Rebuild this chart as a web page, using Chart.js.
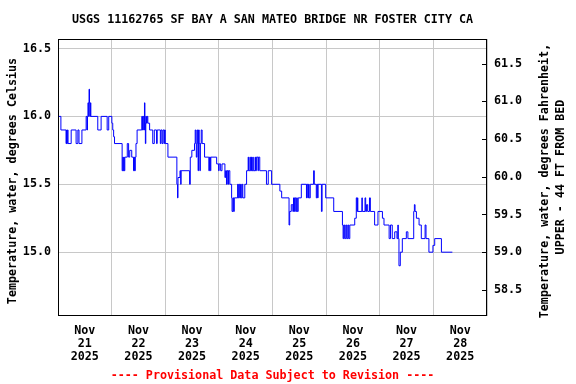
<!DOCTYPE html>
<html>
<head>
<meta charset="utf-8">
<title>USGS 11162765</title>
<script src="https://cdn.jsdelivr.net/npm/chart.js@4.4.1/dist/chart.umd.min.js"></script>
<style>
    body { margin: 0; background: #ffffff; }
    canvas { display: block; }
</style>
</head>
<body>
<canvas id="TempChart" width="576" height="384"></canvas>
<script>
const chartTitle = "USGS 11162765 SF BAY A SAN MATEO BRIDGE NR FOSTER CITY CA";
const leftAxisTitle = "Temperature, water, degrees Celsius";
const rightAxisTitle = ["Temperature, water, degrees Fahrenheit,", "UPPER - 44 FT FROM BED"];
const footerText = "---- Provisional Data Subject to Revision ----";

const monthLabel = "Nov";
const yearLabel = "2025";
const dayLabels = ["21", "22", "23", "24", "25", "26", "27", "28"];

// hours since Nov 21 00:00, value holds until the next change
const hours = [
    0, 1.3, 3.6, 3.8, 3.9, 4.2, 4.5, 5.9, 8.1, 8.9, 9.4, 10.7,
    12.6, 13.0, 13.2, 13.4, 13.7, 13.9, 14.1, 14.3, 14.5, 14.7, 17.8, 19.3,
    22.0, 22.7, 24.1, 24.5, 24.9, 25.3, 28.7, 29.0, 29.2, 29.5, 29.6, 29.9,
    31.0, 31.6, 32.1, 33.0, 33.8, 34.1, 34.3, 34.6, 34.9, 35.4, 37.5, 37.8,
    38.1, 38.4, 38.7, 38.9, 39.1, 39.3, 39.6, 39.9, 40.2, 41.0, 42.4, 43.1,
    44.1, 44.4, 45.8, 46.1, 46.6, 47.0, 47.5, 47.7, 48.0, 49.2, 53.2, 53.5,
    53.7, 54.6, 54.9, 55.1, 58.9, 59.2, 59.9, 61.1, 61.4, 61.7, 61.9, 62.2,
    62.5, 62.7, 62.9, 63.2, 63.5, 63.7, 64.1, 64.5, 65.6, 67.5, 67.8, 68.2,
    68.4, 71.0, 71.9, 72.1, 72.8, 73.4, 74.7, 75.0, 75.4, 75.7, 76.1, 76.3,
    76.9, 77.7, 77.9, 78.3, 78.6, 78.9, 80.4, 80.6, 80.9, 81.3, 81.7, 82.0,
    82.4, 82.7, 83.6, 84.4, 85.1, 85.3, 85.9, 86.1, 86.6, 86.8, 87.2, 87.4,
    88.2, 88.4, 88.8, 89.5, 89.7, 90.3, 93.3, 94.1, 95.6, 99.3, 100.1, 103.4,
    103.7, 104.4, 105.1, 105.4, 105.8, 106.0, 106.4, 106.8, 107.1, 107.5, 108.9, 111.2,
    111.4, 111.8, 112.1, 112.4, 112.9, 114.4, 114.7, 115.6, 115.9, 116.2, 116.4, 117.9,
    118.2, 119.8, 123.4, 127.3, 127.6, 127.9, 128.3, 128.8, 129.2, 129.7, 130.1, 130.6,
    132.8, 133.5, 133.8, 134.0, 134.2, 136.0, 136.2, 137.4, 137.7, 138.1, 138.6, 139.4,
    139.8, 141.7, 143.2, 145.2, 145.9, 148.2, 148.8, 149.6, 150.7, 151.7, 152.1, 152.3,
    152.6, 153.2, 154.1, 155.9, 156.6, 159.2, 159.5, 159.8, 160.4, 161.6, 162.6, 164.3,
    164.7, 166.0, 167.8, 168.6, 171.6, 176.5
];
const tempC = [
    16.0, 15.9, 15.8, 15.9, 15.8, 15.9, 15.8, 15.9, 15.8, 15.9, 15.8, 15.9,
    16.0, 15.9, 16.0, 16.1, 16.0, 16.2, 16.1, 16.0, 16.1, 16.0, 15.9, 16.0,
    15.9, 16.0, 15.95, 15.9, 15.85, 15.8, 15.6, 15.7, 15.6, 15.7, 15.6, 15.7,
    15.8, 15.7, 15.75, 15.7, 15.6, 15.7, 15.6, 15.7, 15.8, 15.9, 16.0, 15.9,
    16.0, 15.9, 16.1, 15.95, 15.8, 16.0, 15.95, 16.0, 15.95, 15.9, 15.8, 15.9,
    15.8, 15.9, 15.8, 15.9, 15.8, 15.9, 15.8, 15.9, 15.8, 15.7, 15.5, 15.4,
    15.55, 15.6, 15.5, 15.6, 15.5, 15.7, 15.75, 15.8, 15.9, 15.8, 15.7, 15.9,
    15.8, 15.6, 15.9, 15.8, 15.6, 15.8, 15.9, 15.8, 15.7, 15.6, 15.7, 15.6,
    15.7, 15.65, 15.6, 15.65, 15.6, 15.65, 15.55, 15.6, 15.5, 15.6, 15.5, 15.6,
    15.5, 15.4, 15.3, 15.4, 15.3, 15.4, 15.5, 15.4, 15.5, 15.4, 15.5, 15.4,
    15.5, 15.4, 15.5, 15.6, 15.7, 15.6, 15.7, 15.6, 15.7, 15.6, 15.7, 15.6,
    15.7, 15.6, 15.7, 15.6, 15.7, 15.6, 15.5, 15.6, 15.5, 15.45, 15.4, 15.2,
    15.3, 15.35, 15.3, 15.4, 15.3, 15.4, 15.3, 15.4, 15.3, 15.4, 15.5, 15.4,
    15.5, 15.4, 15.5, 15.4, 15.5, 15.6, 15.5, 15.4, 15.5, 15.4, 15.5, 15.3,
    15.5, 15.4, 15.3, 15.2, 15.1, 15.2, 15.1, 15.2, 15.1, 15.2, 15.1, 15.2,
    15.25, 15.4, 15.3, 15.4, 15.3, 15.4, 15.3, 15.4, 15.3, 15.35, 15.3, 15.4,
    15.3, 15.2, 15.3, 15.25, 15.2, 15.1, 15.2, 15.1, 15.15, 15.1, 15.2, 15.1,
    14.9, 15.0, 15.1, 15.15, 15.1, 15.3, 15.35, 15.3, 15.25, 15.2, 15.1, 15.2,
    15.1, 15.0, 15.05, 15.1, 15.0, 15.0
];

const celsiusTicks = [15.0, 15.5, 16.0, 16.5];
const yMinC = 14.53;
const yMaxC = 16.57;

const fontFamily = "'DejaVu Sans Mono', monospace";
const gridColor = "rgb(200, 200, 200)";
const toF = c => c * 1.8 + 32;

const boxPlugin = {
    id: "boxAndTitles",
    afterDraw(chart) {
        const ctx = chart.ctx;
        const a = chart.chartArea;
        ctx.save();
        ctx.strokeStyle = "#000000";
        ctx.lineWidth = 1;
        ctx.strokeRect(a.left + 0.5, a.top + 0.5, a.right - a.left - 1, a.bottom - a.top - 1);

        // inward ticks on the Fahrenheit axis
        const y1 = chart.scales.y1;
        ctx.beginPath();
        y1.ticks.forEach(t => {
            const py = Math.round(y1.getPixelForValue(t.value)) + 0.5;
            ctx.moveTo(a.right - 5, py);
            ctx.lineTo(a.right, py);
        });
        ctx.stroke();

        ctx.fillStyle = "#000000";
        ctx.font = "bold 11.7px " + fontFamily;
        ctx.textAlign = "center";
        ctx.textBaseline = "middle";

        ctx.save();
        ctx.translate(13, 181);
        ctx.rotate(-Math.PI / 2);
        ctx.fillText(leftAxisTitle, 0, 0);
        ctx.restore();

        ctx.save();
        ctx.translate(545, 181);
        ctx.rotate(-Math.PI / 2);
        ctx.fillText(rightAxisTitle[0], 0, 0);
        ctx.fillText(rightAxisTitle[1], 4, 15.5);
        ctx.restore();

        ctx.restore();
    }
};

const tempChart = new Chart(document.querySelector("#TempChart"), {
    type: "line",
    data: {
        datasets: [{
            label: "Temperature",
            data: hours.map((h, i) => ({ x: h, y: tempC[i] })),
            borderColor: "#0000ff",
            borderWidth: 1,
            pointRadius: 0,
            stepped: true,
            fill: false
        }]
    },
    options: {
        responsive: false,
        animation: false,
        devicePixelRatio: 1,
        layout: { padding: 0 },
        plugins: {
            legend: { display: false },
            tooltip: { enabled: false },
            title: {
                display: true,
                fullSize: false,
                text: chartTitle,
                color: "#000000",
                font: { family: fontFamily, size: 11.7, weight: "bold", lineHeight: 1.2 },
                padding: { top: 12.5, bottom: 12.46 }
            },
            subtitle: {
                display: true,
                fullSize: false,
                position: "bottom",
                text: footerText,
                color: "#ff0000",
                font: { family: fontFamily, size: 11.7, weight: "bold", lineHeight: 1.2 },
                padding: { top: 0, bottom: 1 }
            }
        },
        scales: {
            x: {
                type: "linear",
                min: 0,
                max: 192,
                afterFit: s => { s.height = 52.96; },
                border: { display: false },
                grid: {
                    drawTicks: false,
                    color: c => (c.tick && c.tick.value % 24 === 0) ? gridColor : "rgba(0,0,0,0)"
                },
                ticks: {
                    stepSize: 12,
                    autoSkip: false,
                    maxRotation: 0,
                    padding: 7.8,
                    color: "#000000",
                    font: { family: fontFamily, size: 11.7, weight: "bold", lineHeight: 1.15 },
                    callback: v => v % 24 === 12 ? [monthLabel, dayLabels[(v - 12) / 24], yearLabel] : ""
                }
            },
            y: {
                position: "left",
                min: yMinC,
                max: yMaxC,
                afterFit: s => { s.width = 58; },
                afterBuildTicks: s => { s.ticks = celsiusTicks.map(v => ({ value: v })); },
                border: { display: false },
                grid: { drawTicks: false, color: gridColor },
                ticks: {
                    padding: 7,
                    color: "#000000",
                    font: { family: fontFamily, size: 11.7, weight: "bold" },
                    callback: v => v.toFixed(1)
                }
            },
            y1: {
                position: "right",
                min: toF(yMinC),
                max: toF(yMaxC),
                afterFit: s => { s.width = 89; },
                border: { display: false },
                grid: { drawOnChartArea: false, drawTicks: false },
                ticks: {
                    stepSize: 0.5,
                    includeBounds: false,
                    padding: 7,
                    color: "#000000",
                    font: { family: fontFamily, size: 11.7, weight: "bold" },
                    callback: v => v.toFixed(1)
                }
            }
        }
    },
    plugins: [boxPlugin]
});
</script>
</body>
</html>
